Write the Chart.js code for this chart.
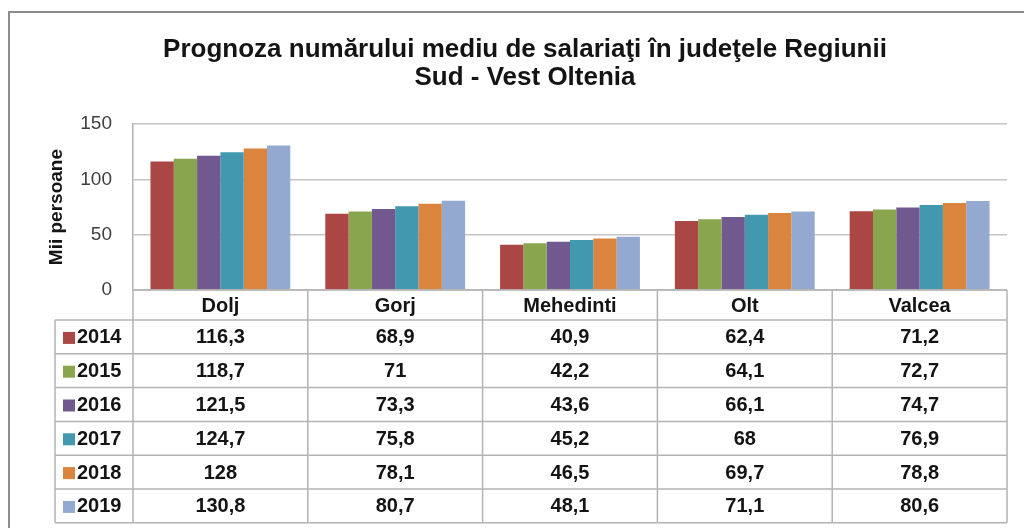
<!DOCTYPE html>
<html>
<head>
<meta charset="utf-8">
<script src="https://cdn.jsdelivr.net/npm/chart.js@4"></script>
<style>
  html, body { margin: 0; padding: 0; background: #ffffff; }
  #wrap { width: 1024px; height: 528px; }
</style>
</head>
<body>
<div id="wrap"><canvas id="salariatiChart" width="1024" height="528"></canvas></div>
<script>
"use strict";

const judete = ["Dolj", "Gorj", "Mehedinti", "Olt", "Valcea"];
const ani = ["2014", "2015", "2016", "2017", "2018", "2019"];
const culori = ["#AA4643", "#89A54E", "#71588F", "#4198AF", "#DB843D", "#93A9CF"];

const valori2014 = [116.3, 68.9, 40.9, 62.4, 71.2];
const valori2015 = [118.7, 71, 42.2, 64.1, 72.7];
const valori2016 = [121.5, 73.3, 43.6, 66.1, 74.7];
const valori2017 = [124.7, 75.8, 45.2, 68, 76.9];
const valori2018 = [128, 78.1, 46.5, 69.7, 78.8];
const valori2019 = [130.8, 80.7, 48.1, 71.1, 80.6];
const serii = [valori2014, valori2015, valori2016, valori2017, valori2018, valori2019];

const yTicks = [0, 50, 100, 150];

const FONT = "'Liberation Sans', Arial, sans-serif";

// Excel-style data table under the plot, aligned to the x scale
const dataTable = {
  id: "dataTable",
  afterDraw(chart) {
    const ctx = chart.ctx;
    const x = chart.scales.x;
    const area = chart.chartArea;
    const step = (x.right - x.left) / judete.length;
    const headTop = area.bottom;
    const headH = 30;
    const rowH = 33.8;
    const legendLeft = 55;
    const tableBottom = headTop + headH + rowH * ani.length;

    ctx.save();

    // frame of the whole picture
    ctx.strokeStyle = "#8c8c8c";
    ctx.lineWidth = 2;
    ctx.beginPath();
    ctx.moveTo(9, 528);
    ctx.lineTo(9, 12);
    ctx.lineTo(1024, 12);
    ctx.stroke();

    ctx.strokeStyle = "#b3b3b3";
    ctx.lineWidth = 1.5;
    ctx.beginPath();
    // header row
    ctx.moveTo(x.left, headTop);
    ctx.lineTo(x.right, headTop);
    ctx.moveTo(x.left, headTop + headH);
    ctx.lineTo(x.right, headTop + headH);
    // data rows
    for (let r = 1; r <= ani.length; r++) {
      const y = headTop + headH + rowH * r;
      ctx.moveTo(legendLeft, y);
      ctx.lineTo(x.right, y);
    }
    ctx.moveTo(legendLeft, headTop + headH);
    ctx.lineTo(x.left, headTop + headH);
    ctx.moveTo(legendLeft, headTop + headH);
    ctx.lineTo(legendLeft, tableBottom);
    // column dividers
    for (let c = 0; c <= judete.length; c++) {
      const cx = x.left + step * c;
      ctx.moveTo(cx, headTop);
      ctx.lineTo(cx, tableBottom);
    }
    ctx.stroke();

    ctx.fillStyle = "#141414";
    ctx.textAlign = "center";
    ctx.textBaseline = "middle";
    ctx.font = "bold 20px " + FONT;
    judete.forEach((j, i) => {
      ctx.fillText(j, x.getPixelForValue(i), headTop + headH / 2 + 1);
    });

    serii.forEach((serie, r) => {
      const yMid = headTop + headH + rowH * r + rowH / 2 + 1;
      ctx.fillStyle = culori[r];
      ctx.fillRect(legendLeft + 8, yMid - 6, 12, 12);
      ctx.fillStyle = "#141414";
      ctx.textAlign = "left";
      ctx.fillText(ani[r], legendLeft + 22, yMid);
      ctx.textAlign = "center";
      serie.forEach((v, i) => {
        ctx.fillText(String(v).replace(".", ","), x.getPixelForValue(i), yMid);
      });
    });

    ctx.restore();
  },
};

const ctx = document.getElementById("salariatiChart").getContext("2d");

new Chart(ctx, {
  type: "bar",
  data: {
    labels: judete,
    datasets: ani.map((an, i) => ({
      label: an,
      data: serii[i],
      backgroundColor: culori[i],
      borderWidth: 0,
      categoryPercentage: 0.8,
      barPercentage: 1.0,
    })),
  },
  options: {
    responsive: false,
    animation: false,
    devicePixelRatio: 1,
    layout: {
      padding: { left: 43, right: 17, top: 0, bottom: 238 },
    },
    scales: {
      x: {
        display: false,
      },
      y: {
        min: 0,
        max: 150,
        afterFit: (scale) => {
          scale.width = 90;
        },
        afterBuildTicks: (scale) => {
          scale.ticks = yTicks.map((v) => ({ value: v }));
        },
        grid: {
          color: "#c4c4c4",
          lineWidth: 1.5,
          drawTicks: false,
        },
        border: {
          display: true,
          color: "#b3b3b3",
          width: 1.5,
        },
        ticks: {
          padding: 21,
          color: "#404040",
          font: { family: FONT, size: 19 },
        },
        title: {
          display: true,
          text: "Mii persoane",
          color: "#141414",
          padding: { top: 2, bottom: 2 },
          font: { family: FONT, size: 19, weight: "bold", lineHeight: 1.2 },
        },
      },
    },
    plugins: {
      legend: { display: false },
      tooltip: { enabled: false },
      title: {
        display: true,
        text: ["Prognoza numărului mediu de salariaţi în judeţele Regiunii", "Sud - Vest Oltenia"],
        color: "#141414",
        font: { family: FONT, size: 26, weight: "bold", lineHeight: 1.08 },
        padding: { top: 36, bottom: 32 },
      },
    },
  },
  plugins: [dataTable],
});
</script>
</body>
</html>
